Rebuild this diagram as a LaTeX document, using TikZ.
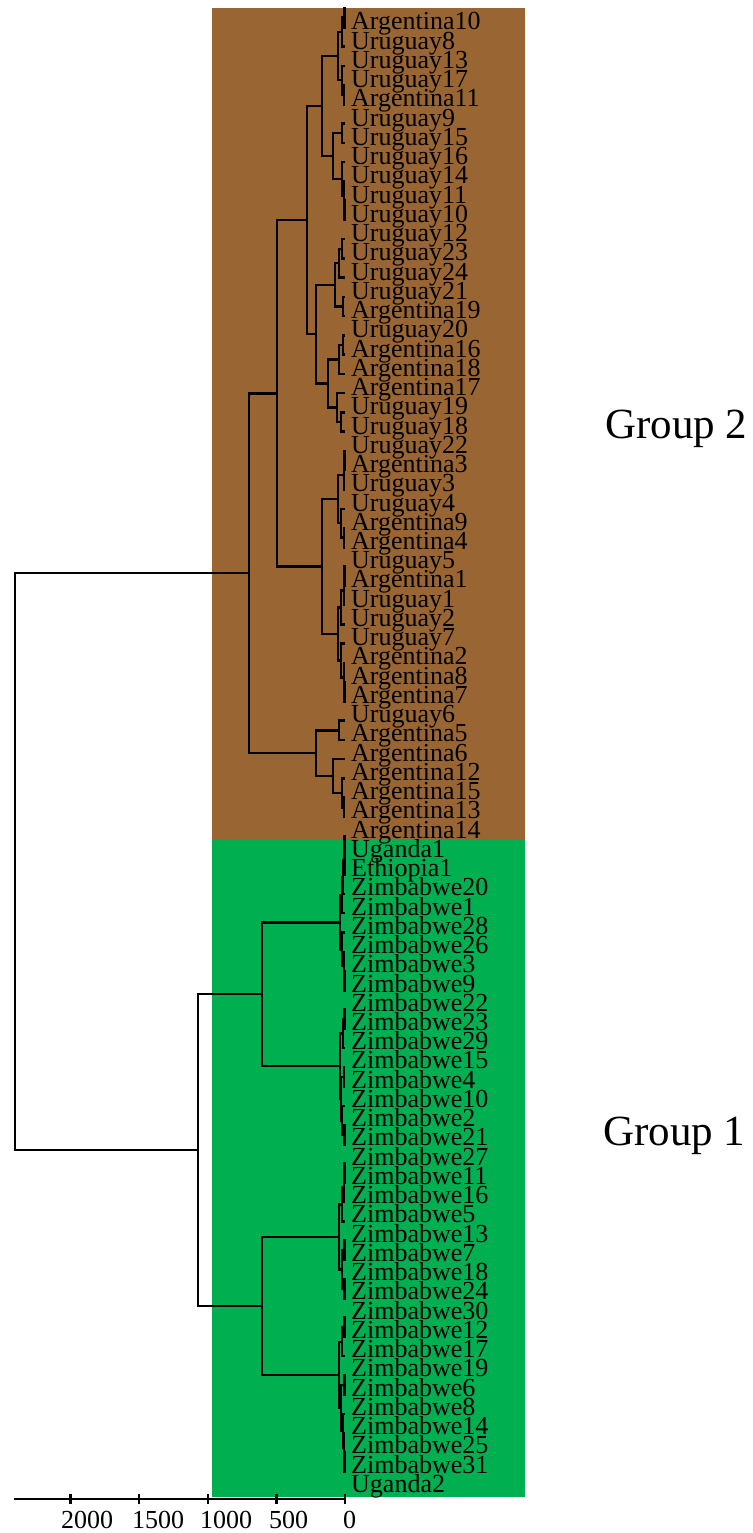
\documentclass[tikz,border=0pt]{standalone}
\usepackage{fontspec}
\setmainfont{Liberation Serif}
\usetikzlibrary{calc}
\definecolor{brownbg}{RGB}{153,102,51}
\definecolor{greenbg}{RGB}{0,176,80}
\tikzset{
  edge/.style={line width=2.5pt, line join=miter},
  lab/.style={anchor=base west, inner sep=0pt, font=\fontsize{26}{26}\selectfont},
  ticklab/.style={anchor=base west, inner sep=0pt, font=\fontsize{26}{26}\selectfont},
  grp/.style={anchor=base west, inner sep=0pt, font=\fontsize{43}{43}\selectfont}
}
\newcommand\mrg[4]{%
  \coordinate (#1m) at ($(#3)!0.5!(#4)$);
  \coordinate (#1x) at (#2,0);
  \coordinate (#1) at (#1m -| #1x);
  \draw[edge] (#3) -- (#3 -| #1) -- (#4 -| #1) -- (#4);
}
\begin{document}
\begin{tikzpicture}[x=1pt,y=-1pt]
\useasboundingbox (0,0) rectangle (752,1533);
% background cluster boxes
\fill[brownbg] (212,8) rectangle (525,840);
\fill[greenbg] (212,840) rectangle (525,1497);
% leaf positions
\foreach \i in {1,...,77} {\coordinate (L\i) at (345,{8+(\i-1)*19.26});}
% Group 2 tree
\mrg{a1}{344.5}{L1}{L2}
\mrg{a2}{342}{a1}{L3}
\mrg{a3}{344}{L5}{L6}
\mrg{a4}{342}{L4}{a3}
\mrg{Rxa}{338}{a2}{a4}
\mrg{b1}{342}{L7}{L8}
\mrg{b2}{344.5}{L11}{L12}
\mrg{b3}{344}{L10}{b2}
\mrg{b4}{342}{L9}{b3}
\mrg{Rxb}{333}{b1}{b4}
\mrg{Rx}{322}{Rxa}{Rxb}
\mrg{c1}{342}{L13}{L14}
\mrg{c2}{339}{c1}{L15}
\mrg{c3}{343}{L16}{L17}
\mrg{Rya}{335}{c2}{c3}
\mrg{d1}{343}{L18}{L19}
\mrg{d2}{339}{d1}{L20}
\mrg{d3}{341}{L22}{L23}
\mrg{d4}{337}{L21}{d3}
\mrg{Ryb}{328}{d2}{d4}
\mrg{Ry}{316}{Rya}{Ryb}
\mrg{Rn}{307}{Rx}{Ry}
\mrg{e1}{344.5}{L24}{L25}
\mrg{e2}{344}{e1}{L26}
\mrg{e3}{344}{L28}{L29}
\mrg{e4}{341}{L27}{e3}
\mrg{Sa}{338}{e2}{e4}
\mrg{f1}{344.5}{L30}{L31}
\mrg{f2}{344}{f1}{L32}
\mrg{f3}{341}{f2}{L33}
\mrg{f4}{344.5}{L36}{L37}
\mrg{f5}{344}{L35}{f4}
\mrg{f6}{341}{L34}{f5}
\mrg{Sb}{338}{f3}{f6}
\mrg{Sn}{322}{Sa}{Sb}
\mrg{Pn}{277}{Rn}{Sn}
\mrg{An}{339}{L38}{L39}
\mrg{g2}{344}{L42}{L43}
\mrg{Cn}{342}{L41}{g2}
\mrg{Bn}{333}{L40}{Cn}
\mrg{Qn}{316}{An}{Bn}
\mrg{Gtwo}{249}{Pn}{Qn}
% Group 1 tree
\mrg{h0}{344.5}{L44}{L45}
\mrg{h1}{344.5}{h0}{L46}
\mrg{h2}{343}{h1}{L47}
\mrg{h3}{342}{h2}{L48}
\mrg{h4}{344.5}{L51}{L52}
\mrg{h5}{344}{L50}{h4}
\mrg{h6}{342}{L49}{h5}
\mrg{Gaa}{340}{h3}{h6}
\mrg{i1}{344.5}{L53}{L54}
\mrg{i2}{343}{i1}{L55}
\mrg{i3}{344}{L56}{L57}
\mrg{i4}{344.5}{L59}{L60}
\mrg{i5}{342}{L58}{i4}
\mrg{i6}{341}{i3}{i5}
\mrg{Gab}{340}{i2}{i6}
\mrg{Ga}{262}{Gaa}{Gab}
\mrg{j1}{344.5}{L61}{L62}
\mrg{j2}{344}{j1}{L63}
\mrg{j3}{342}{j2}{L64}
\mrg{j4}{344.5}{L65}{L66}
\mrg{j5}{344.5}{L67}{L68}
\mrg{j6}{342}{j4}{j5}
\mrg{Gba}{339}{j3}{j6}
\mrg{k1}{344.5}{L69}{L70}
\mrg{k2}{342}{k1}{L71}
\mrg{k3}{344.5}{L72}{L73}
\mrg{k4}{344.5}{L76}{L77}
\mrg{k5}{344}{L75}{k4}
\mrg{k6}{343}{L74}{k5}
\mrg{k7}{341}{k3}{k6}
\mrg{Gbb}{339}{k2}{k7}
\mrg{Gb}{262}{Gba}{Gbb}
\mrg{Gone}{198}{Ga}{Gb}
\mrg{root}{15}{Gtwo}{Gone}
% leaf labels
\foreach \n [count=\i] in {Argentina10,Uruguay8,Uruguay13,Uruguay17,Argentina11,Uruguay9,Uruguay15,Uruguay16,Uruguay14,Uruguay11,Uruguay10,Uruguay12,Uruguay23,Uruguay24,Uruguay21,Argentina19,Uruguay20,Argentina16,Argentina18,Argentina17,Uruguay19,Uruguay18,Uruguay22,Argentina3,Uruguay3,Uruguay4,Argentina9,Argentina4,Uruguay5,Argentina1,Uruguay1,Uruguay2,Uruguay7,Argentina2,Argentina8,Argentina7,Uruguay6,Argentina5,Argentina6,Argentina12,Argentina15,Argentina13,Argentina14,Uganda1,Ethiopia1,Zimbabwe20,Zimbabwe1,Zimbabwe28,Zimbabwe26,Zimbabwe3,Zimbabwe9,Zimbabwe22,Zimbabwe23,Zimbabwe29,Zimbabwe15,Zimbabwe4,Zimbabwe10,Zimbabwe2,Zimbabwe21,Zimbabwe27,Zimbabwe11,Zimbabwe16,Zimbabwe5,Zimbabwe13,Zimbabwe7,Zimbabwe18,Zimbabwe24,Zimbabwe30,Zimbabwe12,Zimbabwe17,Zimbabwe19,Zimbabwe6,Zimbabwe8,Zimbabwe14,Zimbabwe25,Zimbabwe31,Uganda2}
  {\node[lab] (t\i) at (351,{30+(\i-1)*19.24}) {\n};}
% axis
\coordinate (axL) at (14,1499);
\coordinate (axR) at (345,1499);
\draw[edge] (axL) -- (axR);
\foreach \v/\lx in {0/343,500/269,1000/200,1500/132,2000/61} {
  \coordinate (tkA\v) at ({345-\v*0.13725},1494);
  \coordinate (tkB\v) at ({345-\v*0.13725},1504);
  \draw[edge] (tkA\v) -- (tkB\v);
  \node[ticklab] (tl\v) at (\lx,1528) {\v};
}
% group labels
\node[grp] (grp2) at (605,438) {Group 2};
\node[grp] (grp1) at (603,1145) {Group 1};
\end{tikzpicture}
\end{document}
